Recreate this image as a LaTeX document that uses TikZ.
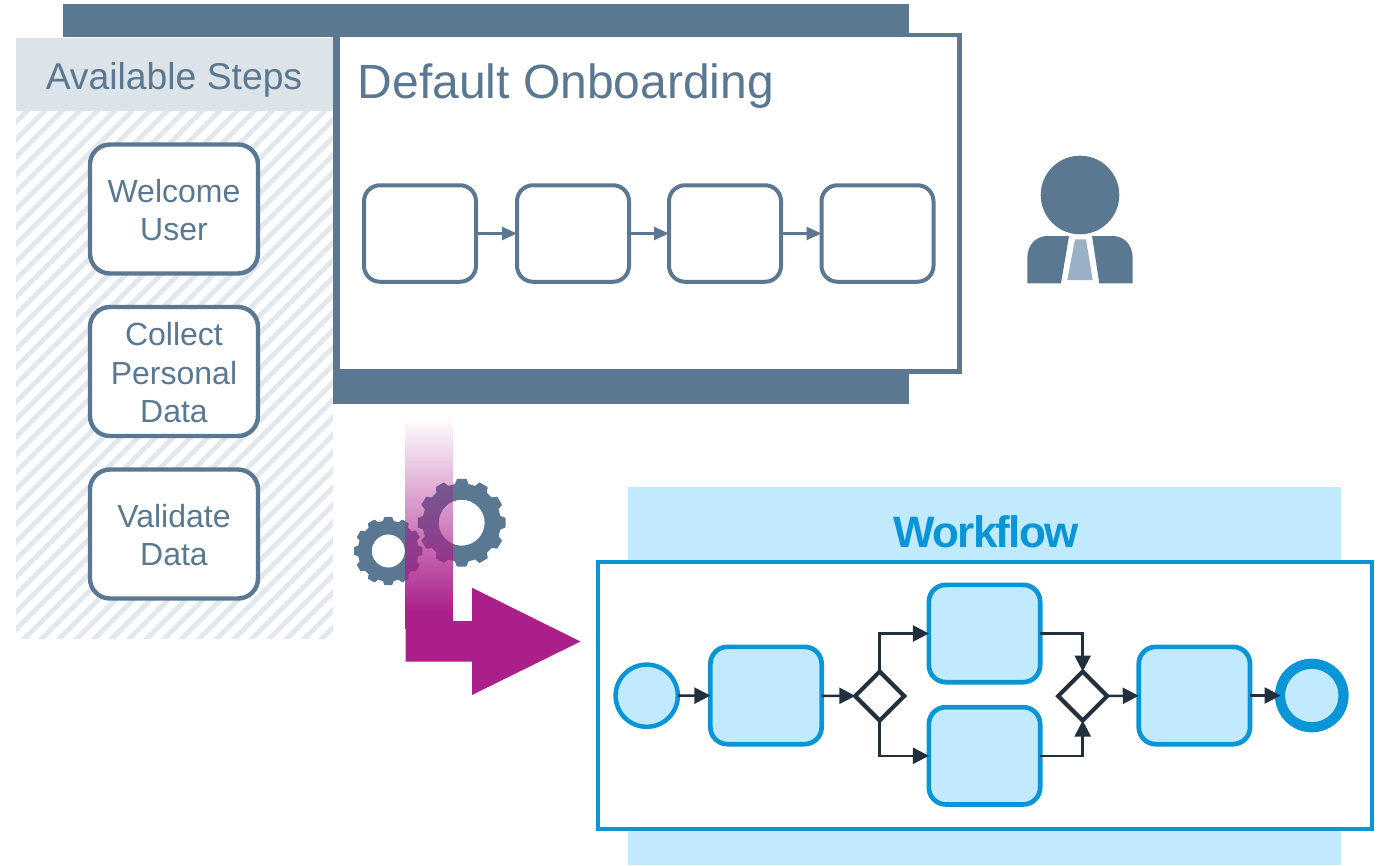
\documentclass[tikz,border=0pt]{standalone}
\usepackage{fontspec}
\setmainfont{Liberation Sans}
\usetikzlibrary{arrows.meta,shapes.geometric,fadings}
\definecolor{slateb}{HTML}{5A7892}
\definecolor{headbg}{HTML}{DCE3E9}
\definecolor{hatchc}{HTML}{E2E8ED}
\definecolor{lightb}{HTML}{C2EAFF}
\definecolor{blueb}{HTML}{0A95D6}
\definecolor{darkc}{HTML}{22303E}
\definecolor{purpl}{HTML}{AA1F8A}
\definecolor{tiec}{HTML}{9BB0C5}
\tikzfading[name=barfade, top color=transparent!100, bottom color=transparent!0]
\newcommand{\fs}[1]{\fontsize{#1}{#1}\selectfont}
\newcommand{\topfix}{\rule{0pt}{25.5pt}}
\newcommand{\gearfig}[6]{%
  \begin{scope}[shift={(#1,#2)}]
    \fill[slateb,even odd rule,draw=slateb,line width=1.5pt,line join=round]
      (-0.31*360/#3:#4)
      \foreach \k in {0,...,\numexpr#3-1\relax}{
        -- ({(\k-0.31)*360/#3}:#4)
        -- ({(\k-0.19)*360/#3}:#5)
        -- ({(\k+0.19)*360/#3}:#5)
        -- ({(\k+0.31)*360/#3}:#4)
      } -- cycle
      (0,0) circle (#6);
  \end{scope}}
\tikzset{
  stepcard/.style={draw=slateb,line width=4.4pt,fill=white,rounded corners=20pt,minimum width=168pt,minimum height=129pt,inner sep=0pt,outer sep=0pt,text=slateb,align=center,font=\fs{32}},
  flowbox/.style={draw=slateb,line width=4pt,fill=white,rounded corners=16pt,minimum width=112pt,minimum height=96.5pt,inner sep=0pt,outer sep=0pt},
  slatearrow/.style={draw=slateb,line width=2.2pt,-{Triangle[length=15pt,width=13pt]}},
  taskbox/.style={draw=blueb,line width=4.7pt,fill=lightb,rounded corners=17pt,minimum width=111.3pt,minimum height=97.3pt,inner sep=0pt,outer sep=0pt},
  gatewaybox/.style={diamond,draw=darkc,line width=4.2pt,fill=white,minimum width=49pt,minimum height=49pt,inner sep=0pt,outer sep=0pt},
  flowarrow/.style={draw=darkc,line width=2.5pt,-{Triangle[length=16pt,width=16pt]}},
}
\begin{document}
\begin{tikzpicture}[x=1pt,y=-1pt]
\useasboundingbox (0,0) rectangle (1384,865);
% available steps panel
\begin{scope}
  \clip (16,38) rectangle (333,638);
  \foreach \i in {0,...,55}{
    \draw[hatchc,line width=5pt] ({-587.5+17.5*\i},638) ++(-10,10) -- ++(620,-620);
  }
\end{scope}
\fill[headbg] (16,38) rectangle (333,111);
\node[text=slateb,font=\fs{37.3}] (avail) at (174,80) {Available Steps};
% dark bands + default box
\node[draw=slateb,line width=4.4pt,fill=white,minimum width=621.5pt,minimum height=336.5pt,inner sep=0pt,outer sep=0pt] (defbox) at (648.7,203.3) {};
\fill[slateb] (63,4) rectangle (909,37);
\fill[slateb] (333,370) rectangle (909,404);
\fill[slateb] (333,37) rectangle (340,370);
\node[text=slateb,font=\fs{48},anchor=base west,inner sep=0pt] (deftitle) at (357.5,98) {Default Onboarding};
% step cards
\node[stepcard] (s1) at (174,209) {\topfix Welcome\\[6.5pt]User};
\node[stepcard] (s2) at (174,371.5) {\topfix Collect\\[6.5pt]Personal\\[6.5pt]Data};
\node[stepcard] (s3) at (174,534) {\topfix Validate\\[6.5pt]Data};
% onboarding flow
\node[flowbox] (b1) at (420,233.5) {};
\node[flowbox] (b2) at (573,233.5) {};
\node[flowbox] (b3) at (725,233.5) {};
\node[flowbox] (b4) at (877.5,233.5) {};
\draw[slatearrow] (b1) -- (b2);
\draw[slatearrow] (b2) -- (b3);
\draw[slatearrow] (b3) -- (b4);
% person
\fill[slateb] (1080,195) circle (39.3);
\fill[slateb] (1027.3,283.3) -- (1027.3,258) .. controls (1027.3,245) and (1036,236) .. (1047,236) -- (1069,236) -- (1061,283.3) -- cycle;
\fill[slateb] (1132.7,283.3) -- (1132.7,258) .. controls (1132.7,245) and (1124,236) .. (1113,236) -- (1092,236) -- (1099.3,283.3) -- cycle;
\fill[tiec] (1075,239.3) -- (1086,239.3) -- (1092.7,280) -- (1067.3,280) -- cycle;
% gears
\gearfig{461.7}{522.7}{12}{38.5}{43.3}{23.7}
\gearfig{388.3}{551}{12}{29.8}{33.6}{17.3}
% big process arrow
\fill[purpl] (405.7,621) -- (472,621) -- (472,587.7) -- (580.5,641.5) -- (472,695) -- (472,661.7) -- (405.7,661.7) -- cycle;
\fill[purpl,path fading=barfade] (405,417) rectangle (453,612);
\fill[purpl] (405,611.5) rectangle (453,629);
% workflow
\fill[lightb] (628,487) rectangle (1341,865);
\node[draw=blueb,line width=4pt,fill=white,minimum width=774pt,minimum height=267pt,inner sep=0pt,outer sep=0pt] (wfbox) at (985,695.5) {};
\node[text=blueb,font={\fs{44}\bfseries\addfontfeatures{LetterSpace=-4}}] (wftitle) at (986,532) {Workflow};
\node[circle,draw=blueb,line width=4.5pt,fill=lightb,minimum size=62.2pt,inner sep=0pt,outer sep=0pt] (start) at (646.7,695.7) {};
\node[taskbox] (t1) at (766,695.5) {};
\node[gatewaybox] (g1) at (879.7,696) {};
\node[taskbox] (t2) at (984.5,633.5) {};
\node[taskbox] (t3) at (984.5,755.8) {};
\node[gatewaybox] (g2) at (1082.7,696) {};
\node[taskbox] (t4) at (1194.4,695.5) {};
\node[circle,draw=blueb,line width=10.2pt,fill=lightb,minimum size=63.5pt,inner sep=0pt,outer sep=0pt] (finish) at (1311.8,695.5) {};
\draw[flowarrow] (start) -- (t1);
\draw[flowarrow] (t1) -- (g1);
\draw[flowarrow] (g1.north) |- (t2.west);
\draw[flowarrow] (g1.south) |- (t3.west);
\draw[flowarrow] (t2.east) -| (g2.north);
\draw[flowarrow] (t3.east) -| (g2.south);
\draw[flowarrow] (g2) -- (t4);
\draw[flowarrow,shorten >=-0.5pt] (t4) -- (finish.west);
\end{tikzpicture}
\end{document}
